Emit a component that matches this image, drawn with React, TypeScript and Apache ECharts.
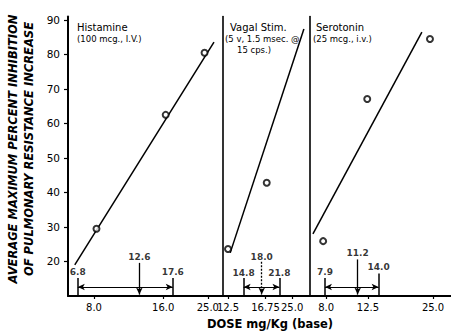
import React, { useEffect, useRef } from 'react';
import * as echarts from 'echarts';

// ---------------- data ----------------
const yTicks = [20, 30, 40, 50, 60, 70, 80, 90];

// Histamine panel
const histDose = [8.2, 16.4, 24.2];
const histValue = [29.5, 62.5, 80.5];
const histFitDose = [6.6, 26.6];
const histFitValue = [19.0, 83.6];
const histTicks = [8, 16, 25];
const histTickLabels = ['8.0', '16.0', '25.0'];
const histRange = [6.8, 12.6, 17.6]; // low, ED50, high

// Vagal stimulation panel
const vagalDose = [12.5, 19.0];
const vagalValue = [23.6, 42.8];
const vagalFitDose = [12.8, 28.4];
const vagalFitValue = [22.5, 87.4];
const vagalTicks = [12.5, 18.75, 25]; // middle tick is printed "16.75" in the source figure
const vagalTickLabels = ['12.5', '16.75', '25.0'];
const vagalRange = [14.8, 18.0, 21.8];

// Serotonin panel
const seroDose = [7.75, 12.4, 24.2];
const seroValue = [25.9, 67.1, 84.5];
const seroFitDose = [6.95, 22.2];
const seroFitValue = [28.0, 86.5];
const seroTicks = [8, 12.5, 25];
const seroTickLabels = ['8.0', '12.5', '25.0'];
const seroRange = [7.9, 11.2, 14.0];

// ---------------- helpers / layout ----------------
const lg = (d: number) => Math.log10(d);
const FONT = '"DejaVu Sans", sans-serif';

const panels = [
  {
    dose: histDose, value: histValue, fitDose: histFitDose, fitValue: histFitValue,
    ticks: histTicks, tickLabels: histTickLabels, range: histRange,
    left: 68, width: 155, min: 0.79, max: 1.464, midDashed: false,
    endTop: 15.2, endLabel: 17.0, hiTop: 15.2, hiLabel: 17.0, midTop: 19.6, midLabel: 21.4,
  },
  {
    dose: vagalDose, value: vagalValue, fitDose: vagalFitDose, fitValue: vagalFitValue,
    ticks: vagalTicks, tickLabels: vagalTickLabels, range: vagalRange,
    left: 223, width: 87, min: 1.0734, max: 1.482, midDashed: true,
    endTop: 15.2, endLabel: 16.8, hiTop: 15.2, hiLabel: 16.8, midTop: 19.9, midLabel: 21.4,
  },
  {
    dose: seroDose, value: seroValue, fitDose: seroFitDose, fitValue: seroFitValue,
    ticks: seroTicks, tickLabels: seroTickLabels, range: seroRange,
    left: 310, width: 141, min: 0.8284, max: 1.4812, midDashed: false,
    endTop: 15.2, endLabel: 17.0, hiTop: 16.5, hiLabel: 18.4, midTop: 20.6, midLabel: 22.4,
  },
];

const ARROW_Y = 12.6;

function buildOption() {
  const grid = panels.map((p) => ({
    left: p.left, width: p.width, top: 16.5, bottom: 35, outerBoundsMode: 'none',
  }));

  const xAxis = panels.map((p, i) => {
    const tv = p.ticks.map(lg);
    return {
      type: 'value', gridIndex: i, min: p.min, max: p.max,
      axisLine: { show: true, onZero: false, lineStyle: { color: '#000', width: 2 } },
      axisTick: { show: true, customValues: tv, length: 3, lineStyle: { color: '#000', width: 1.2 } },
      axisLabel: {
        show: true, customValues: tv, color: '#000', fontSize: 10, fontFamily: FONT, margin: 6,
        formatter: (v: number) => {
          let best = 0;
          tv.forEach((t, k) => { if (Math.abs(t - v) < Math.abs(tv[best] - v)) best = k; });
          return p.tickLabels[best];
        },
      },
      splitLine: { show: false },
    };
  });

  const yAxis = panels.map((p, i) => ({
    type: 'value', gridIndex: i, min: 10, max: 91,
    axisLine: { show: true, onZero: false, lineStyle: { color: '#000', width: i === 0 ? 2 : 1.6 } },
    axisTick: { show: i === 0, customValues: yTicks, length: 4, lineStyle: { color: '#000', width: 1.2 } },
    axisLabel: {
      show: i === 0, customValues: yTicks, color: '#000', fontSize: 10.5, fontFamily: FONT, margin: 8,
      formatter: (v: number) => String(v),
    },
    splitLine: { show: false },
  }));

  const arrowEnd = { symbol: 'arrow', symbolSize: [5, 7] };
  const series: any[] = [];
  panels.forEach((p, i) => {
    const [lo, mid, hi] = p.range.map(lg);
    series.push({
      type: 'line', xAxisIndex: i, yAxisIndex: i,
      data: p.fitDose.map((d, k) => [lg(d), p.fitValue[k]]),
      showSymbol: false, symbol: 'none',
      itemStyle: { color: '#000' },
      lineStyle: { color: '#000', width: 1.5 },
      markLine: {
        silent: true, symbol: ['none', 'none'], label: { show: false },
        lineStyle: { color: '#000', width: 1.5, type: 'solid' },
        data: [
          [{ coord: [lo, 10] }, { coord: [lo, p.endTop] }],
          [{ coord: [hi, 10] }, { coord: [hi, p.hiTop] }],
          [
            { coord: [mid, p.midTop], lineStyle: { type: p.midDashed ? [2, 1.5] : 'solid', width: 1.3 } },
            { coord: [mid, 10.4], ...arrowEnd },
          ],
          [
            { coord: [lo, ARROW_Y], ...arrowEnd, lineStyle: { width: 1.2 } },
            { coord: [hi, ARROW_Y], ...arrowEnd },
          ],
        ],
      },
      z: 2,
    });
    series.push({
      type: 'scatter', xAxisIndex: i, yAxisIndex: i,
      data: p.dose.map((d, k) => [lg(d), p.value[k]]),
      symbol: 'emptyCircle', symbolSize: 6,
      itemStyle: { color: '#000', borderColor: '#000', borderWidth: 1.4 },
      z: 3,
    });
    series.push({
      type: 'scatter', xAxisIndex: i, yAxisIndex: i, symbolSize: 0, silent: true,
      itemStyle: { color: '#000' },
      data: [
        { value: [lo, p.endLabel], name: p.range[0].toFixed(1) },
        { value: [mid, p.midLabel], name: p.range[1].toFixed(1) },
        { value: [hi, p.hiLabel], name: p.range[2].toFixed(1) },
      ],
      label: {
        show: true, position: 'inside', formatter: '{b}', color: '#000',
        textBorderWidth: 0, fontSize: 9, fontWeight: 'bold', fontFamily: FONT,
      },
      z: 4,
    });
  });

  const txt = (text: string, x: number, y: number, font: string) => ({
    type: 'text', x, y,
    style: { text, fill: '#000', font, verticalAlign: 'middle', align: 'left' },
  });

  const graphic = [
    txt('Histamine', 77, 27, `10px ${FONT}`),
    txt('(100 mcg., I.V.)', 77, 39, `8.5px ${FONT}`),
    txt('Vagal Stim.', 230, 27, `10px ${FONT}`),
    txt('(5 v, 1.5 msec. @', 225, 39, `8.5px ${FONT}`),
    txt('15 cps.)', 237, 50, `8.5px ${FONT}`),
    txt('Serotonin', 316, 27, `10px ${FONT}`),
    txt('(25 mcg., i.v.)', 313, 39, `8.5px ${FONT}`),
    {
      type: 'text', x: 13, y: 149, rotation: Math.PI / 2,
      style: {
        text: 'AVERAGE MAXIMUM PERCENT INHIBITION', fill: '#000', align: 'center', verticalAlign: 'middle',
        font: `italic bold 11.5px ${FONT}`,
      },
    },
    {
      type: 'text', x: 29, y: 149, rotation: Math.PI / 2,
      style: {
        text: 'OF PULMONARY RESISTANCE INCREASE', fill: '#000', align: 'center', verticalAlign: 'middle',
        font: `italic bold 11.5px ${FONT}`,
      },
    },
    {
      type: 'text', x: 270, y: 324,
      style: {
        text: 'DOSE mg/Kg (base)', fill: '#000', align: 'center', verticalAlign: 'middle',
        font: `bold 11.5px ${FONT}`,
      },
    },
  ];

  return {
    animation: false,
    backgroundColor: '#fff',
    grid, xAxis, yAxis, series, graphic,
  };
}

export default function App() {
  const ref = useRef<HTMLDivElement>(null);
  useEffect(() => {
    if (!ref.current) return;
    const chart = echarts.init(ref.current, undefined, { renderer: 'svg' });
    chart.setOption(buildOption() as any);
    return () => chart.dispose();
  }, []);
  return (
    <div
      ref={ref}
      style={{ position: 'fixed', left: 0, top: 0, width: 451, height: 331, background: '#fff' }}
    />
  );
}
